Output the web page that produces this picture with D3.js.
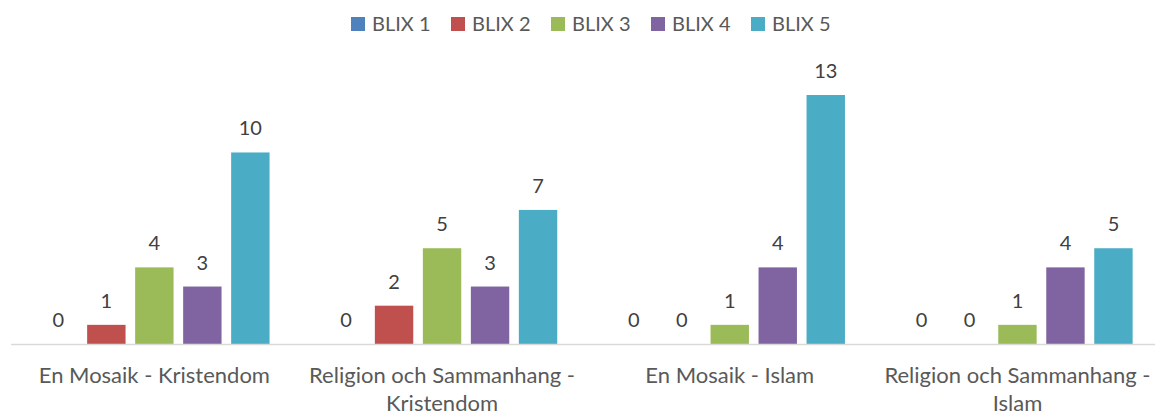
<!DOCTYPE html>
<html><head><meta charset="utf-8">
<script src="https://cdn.jsdelivr.net/npm/d3@7"></script>
<style>
html,body{margin:0;padding:0;background:#fff;}
svg{display:block;font-family:Lato, "Open Sans", sans-serif;}
</style></head>
<body>
<svg id="chart" width="1155" height="415"></svg>
<script>
const categories = ["En Mosaik - Kristendom", "Religion och Sammanhang - Kristendom", "En Mosaik - Islam", "Religion och Sammanhang - Islam"];
const seriesNames = ["BLIX 1", "BLIX 2", "BLIX 3", "BLIX 4", "BLIX 5"];
const blix1 = [0, 0, 0, 0];
const blix2 = [1, 2, 0, 0];
const blix3 = [4, 5, 1, 1];
const blix4 = [3, 3, 4, 4];
const blix5 = [10, 7, 13, 5];
const seriesValues = [blix1, blix2, blix3, blix4, blix5];
const colors = ["#4F81BD", "#C0504D", "#9BBB59", "#8064A2", "#4BACC6"];

const svg = d3.select("#chart");
const baseY = 344;
const x0 = d3.scaleBand().domain(categories).range([10.5, 1161.3]).paddingInner(0).paddingOuter(0);
const groupW = 48 * 5;
const x1 = d3.scaleBand().domain(seriesNames).range([0, groupW]).paddingInner(0.2).paddingOuter(0.1);
const y = d3.scaleLinear().domain([0, 13]).range([baseY, baseY - 249]);

const valueSize = 20;
const catSize = 22;

// bars
const groups = svg.selectAll("g.cat").data(categories).enter().append("g")
  .attr("class", "cat")
  .attr("transform", c => `translate(${x0(c) + x0.bandwidth()/2 - groupW/2},0)`);

groups.each(function(c, ci) {
  const g = d3.select(this);
  seriesNames.forEach((s, si) => {
    const v = seriesValues[si][ci];
    if (v > 0) {
      g.append("rect")
        .attr("x", x1(s)).attr("width", x1.bandwidth())
        .attr("y", y(v)).attr("height", baseY - y(v))
        .attr("fill", colors[si]);
    }
    g.append("text")
      .attr("x", x1(s) + x1.bandwidth()/2)
      .attr("y", y(v) - 17)
      .attr("text-anchor", "middle")
      .attr("font-size", valueSize)
      .attr("fill", "#404040")
      .text(v);
  });
});

// axis
const axis = svg.append("g").attr("transform", `translate(0,${baseY})`)
  .call(d3.axisBottom(x0).tickSize(0).tickFormat(""));
axis.select(".domain").attr("stroke", "#d9d9d9").attr("stroke-width", 1.5).attr("d", `M11,0.5H1155`);

// category labels with wrapping
function wrapLines(text, maxW) {
  const tmp = svg.append("text").attr("font-size", catSize);
  const words = text.split(" ");
  const lines = [];
  let line = [];
  words.forEach(w => {
    const test = line.concat([w]).join(" ");
    tmp.text(test);
    if (tmp.node().getComputedTextLength() > maxW && line.length) {
      lines.push(line.join(" "));
      line = [w];
    } else line = line.concat([w]);
  });
  if (line.length) lines.push(line.join(" "));
  tmp.remove();
  return lines;
}
categories.forEach(c => {
  const lines = wrapLines(c, x0.bandwidth() - 6);
  const t = svg.append("text")
    .attr("text-anchor", "middle")
    .attr("font-size", catSize)
    .attr("fill", "#595959");
  lines.forEach((l, i) => {
    t.append("tspan").attr("x", x0(c) + x0.bandwidth()/2).attr("y", 383 + i*27.5).text(l);
  });
});

// legend
const legend = svg.append("g");
seriesNames.forEach((s, i) => {
  const lx = 351 + i * 100;
  legend.append("rect").attr("x", lx).attr("y", 17).attr("width", 14).attr("height", 14).attr("fill", colors[i]);
  legend.append("text").attr("x", lx + 21).attr("y", 31).attr("font-size", 20)
    .attr("fill", "#595959").text(s);
});
</script>
</body></html>
